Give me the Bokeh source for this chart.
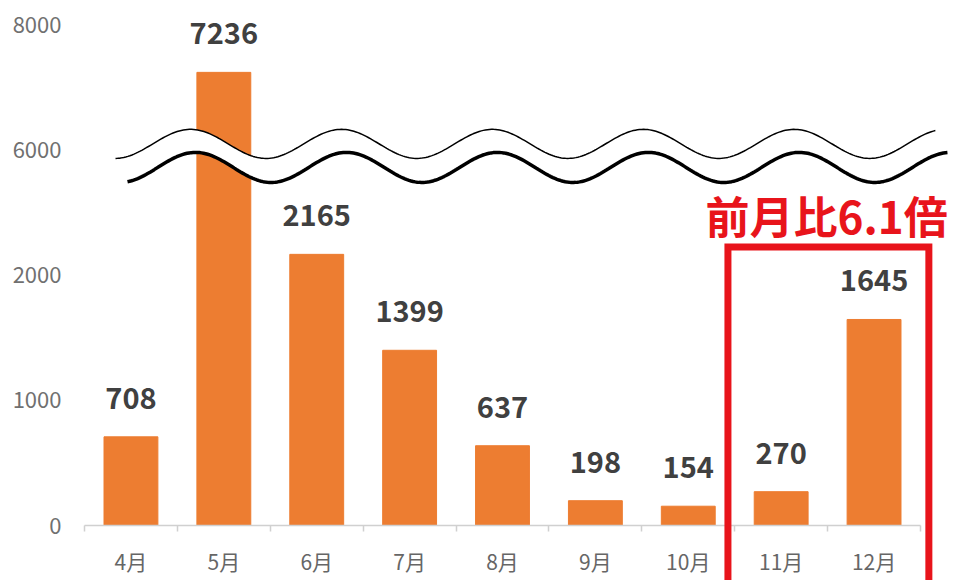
import numpy as np
from bokeh.plotting import figure
from bokeh.models import FixedTicker, Range1d
from bokeh.embed import file_html
from bokeh.resources import INLINE
from bokeh.core.properties import value

# ---------------- data ----------------
months = ["4月", "5月", "6月", "7月", "8月", "9月", "10月", "11月", "12月"]
cases = [708, 7236, 2165, 1399, 637, 198, 154, 270, 1645]
y_tick_values = [0, 1000, 2000, 6000, 8000]
callout_text = "前月比6.1倍"

# ---------------- broken axis mapping ----------------
LINEAR_MAX = 2800      # values up to this are drawn linearly
UPPER_START = 6000     # upper segment starts at this value
UPPER_DISPLAY = 3000   # ...drawn at this display position
UPPER_SCALE = 0.5      # upper segment compression


def disp(v):
    if v <= LINEAR_MAX:
        return v
    return UPPER_DISPLAY + (v - UPPER_START) * UPPER_SCALE


FONT = "Noto Sans CJK JP"
ORANGE = "#ED7D31"
RED = "#E8141B"

xs = list(range(len(months)))
tops = [disp(c) for c in cases]

p = figure(width=950, height=580, x_range=Range1d(-0.5, 8.5), y_range=Range1d(0, 4112),
           output_backend="svg", toolbar_location=None,
           min_border_left=84, min_border_right=30, min_border_top=10, min_border_bottom=55)
p.background_fill_color = "white"
p.border_fill_color = "white"
p.outline_line_color = None
p.grid.visible = False

p.vbar(x=xs, top=tops, width=0.58, color=ORANGE)

p.text(x=xs, y=tops, text=[str(c) for c in cases], text_align="center",
       text_baseline="middle", y_offset=-39, text_font=value(FONT),
       text_font_style="bold", text_font_size="29px", text_color="#404040")

# ---------------- axis break symbol (two wavy lines) ----------------
PERIOD = 1.625
thin_x = np.linspace(-0.166, 8.66, 400)
thin_y = 3047 + 116 * np.cos(2 * np.pi * (thin_x - 0.641) / PERIOD)
thick_x = np.linspace(-0.037, 8.79, 400)
thick_y = 2859 + 120 * np.cos(2 * np.pi * (thick_x - 0.695) / PERIOD)
fill_x = np.linspace(-0.037, 8.66, 400)
fill_top = 3047 + 116 * np.cos(2 * np.pi * (fill_x - 0.641) / PERIOD)
fill_bot = 2859 + 120 * np.cos(2 * np.pi * (fill_x - 0.695) / PERIOD)
p.varea(x=fill_x, y1=fill_bot, y2=fill_top, fill_color="white", level="overlay")
p.line(thin_x, thin_y, line_color="black", line_width=1.5, level="overlay")
p.line(thick_x, thick_y, line_color="black", line_width=3.5, level="overlay")

# ---------------- highlight box & callout ----------------
i11 = months.index("11月")
i12 = months.index("12月")
p.quad(left=[i11 - 0.573], right=[i12 + 0.59], top=[2224], bottom=[-1200],
       fill_color=None, line_color=RED, line_width=7, line_join="miter", level="overlay")
p.text(x=[6.185], y=[2483], text=[callout_text], text_font=value(FONT),
       text_font_style="bold", text_font_size="44px", text_color=RED,
       text_align="left", text_baseline="middle", level="overlay")

# ---------------- axes ----------------
xa = p.xaxis[0]
xa.ticker = FixedTicker(ticks=xs, minor_ticks=[i - 0.5 for i in range(len(months) + 1)])
xa.major_label_overrides = {i: m for i, m in enumerate(months)}
xa.major_tick_line_color = None
xa.major_tick_in = 0
xa.major_tick_out = 6
xa.minor_tick_in = 0
xa.minor_tick_out = 6
xa.minor_tick_line_color = "#D0D0D0"
xa.minor_tick_line_width = 1.5
xa.axis_line_color = "#D0D0D0"
xa.axis_line_width = 1.5
xa.major_label_standoff = 14
xa.major_label_text_font = FONT
xa.major_label_text_font_size = "21px"
xa.major_label_text_color = "#666666"

ya = p.yaxis[0]
ya.ticker = FixedTicker(ticks=[disp(t) for t in y_tick_values])
ya.major_label_overrides = {disp(t): str(t) for t in y_tick_values}
ya.axis_line_color = None
ya.major_tick_line_color = None
ya.minor_tick_line_color = None
ya.major_tick_out = 0
ya.major_tick_in = 0
ya.major_label_standoff = 23
ya.major_label_text_font = FONT
ya.major_label_text_font_size = "22px"
ya.major_label_text_color = "#707070"

open("out.html", "w").write(file_html(p, INLINE))
